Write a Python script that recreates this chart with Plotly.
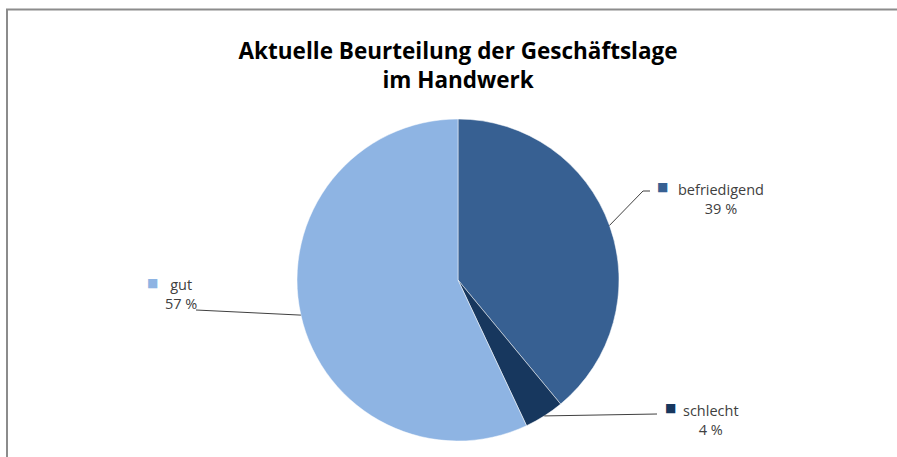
import math
import plotly.graph_objects as go

# ---- data ----
categories = ["befriedigend", "schlecht", "gut"]
values = [39, 4, 57]
colors = ["#376092", "#17375E", "#8EB4E3"]
title_lines = ["Aktuelle Beurteilung der Geschäftslage", "im Handwerk"]

# ---- layout (pixels) ----
W, H = 897, 457
cx, cy, r = 458, 280, 161
# label anchor (text centre), marker position and leader line end (label side)
label_pos = {
    "befriedigend": dict(text=(721, 199), marker=(662, 187), line_end=[(643, 191), (650, 191)]),
    "schlecht": dict(text=(711, 420), marker=(670, 408), line_end=[(657, 414)]),
    "gut": dict(text=(181, 294), marker=(152, 283), line_end=[(196, 310)]),
}

def px(x):
    return x / W

def py(y):
    return 1 - y / H

fig = go.Figure(
    go.Pie(
        labels=categories,
        values=values,
        sort=False,
        direction="clockwise",
        rotation=0,
        marker=dict(colors=colors, line=dict(color="white", width=0.5)),
        textinfo="none",
        hoverinfo="label+percent",
        domain=dict(x=[px(cx - r), px(cx + r)], y=[py(cy + r), py(cy - r)]),
        showlegend=False,
    )
)

annotations = []
shapes = []
total = sum(values)
cum = 0
for cat, val, col in zip(categories, values, colors):
    mid = (cum + val / 2) / total * 2 * math.pi
    cum += val
    ex = cx + r * math.sin(mid)
    ey = cy - r * math.cos(mid)
    lp = label_pos[cat]
    pts = [(ex, ey)] + lp["line_end"]
    path = "M " + " L ".join(f"{px(x)},{py(y)}" for x, y in pts)
    shapes.append(dict(type="path", xref="paper", yref="paper", path=path,
                       line=dict(color="#404040", width=1)))
    tx, ty = lp["text"]
    annotations.append(dict(
        x=px(tx), y=py(ty), xref="paper", yref="paper", showarrow=False,
        text=f"{cat}<br>{round(val / total * 100)} %", align="center",
        xanchor="center", yanchor="middle",
        font=dict(family="Open Sans", size=14.5, color="#404040"),
    ))
    mx, my = lp["marker"]
    annotations.append(dict(
        x=px(mx), y=py(my), xref="paper", yref="paper", showarrow=False,
        text="■", xanchor="center", yanchor="middle",
        font=dict(family="DejaVu Sans", size=12, color=col),
    ))

# chart border (partly cropped)
shapes.append(dict(type="rect", xref="paper", yref="paper",
                   x0=px(7), y0=py(470), x1=px(920), y1=py(9.5),
                   line=dict(color="#8C8C8C", width=2)))

fig.update_layout(
    width=W, height=H,
    margin=dict(l=0, r=0, t=0, b=0),
    paper_bgcolor="white",
    plot_bgcolor="white",
    title=dict(
        text="<br>".join(title_lines),
        x=0.5107, xanchor="center", y=py(59), yanchor="middle",
        font=dict(family="Open Sans", size=22.5, color="black", weight="bold"),
    ),
    annotations=annotations,
    shapes=shapes,
)

fig.write_html(
    "out.html",
    config={"displayModeBar": False},
    post_script="document.body.style.margin='0';document.body.style.overflow='hidden';",
)
